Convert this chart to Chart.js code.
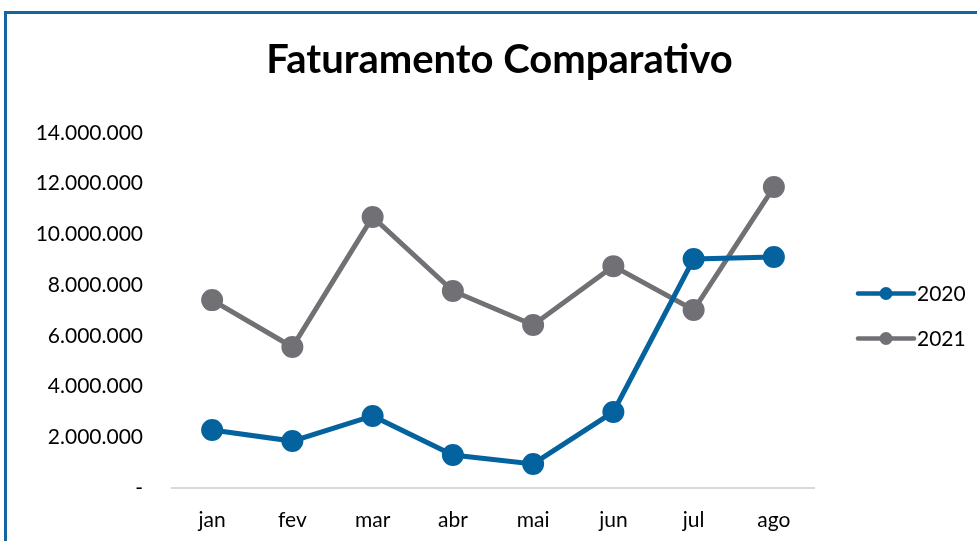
<!DOCTYPE html>
<html>
<head>
<meta charset="utf-8">
<script src="https://cdn.jsdelivr.net/npm/chart.js@4.4.0/dist/chart.umd.min.js"></script>
<style>
  html, body {
    margin: 0;
    padding: 0;
    background: #fff;
    overflow: hidden;
  }

  .wrap {
    position: relative;
    width: 977px;
    height: 541px;
  }

  .frame {
    position: absolute;
    left: 4px;
    top: 11px;
    width: 1000px;
    height: 600px;
    border-left: 3px solid #1565a0;
    border-top: 3px solid #1565a0;
    pointer-events: none;
  }

  canvas {
    position: absolute;
    left: 0;
    top: 0;
  }
</style>
</head>
<body>
<div class="wrap">
  <canvas id="lineChart" width="977" height="541"></canvas>
  <div class="frame"></div>
</div>

<script>
  const months = ['jan', 'fev', 'mar', 'abr', 'mai', 'jun', 'jul', 'ago'];
  const sales2020 = [2290000, 1850000, 2840000, 1300000, 950000, 3000000, 9030000, 9110000];
  const sales2021 = [7410000, 5560000, 10690000, 7770000, 6430000, 8750000, 7020000, 11870000];
  const yTicks = [0, 2000000, 4000000, 6000000, 8000000, 10000000, 12000000, 14000000];
  const chartTitle = 'Faturamento Comparativo';

  const blue = '#04629e';
  const grey = '#717175';
  const font = 'Lato, "Liberation Sans", sans-serif';

  // title centred on the whole box, not only on the plot
  const boxTitle = {
    id: 'boxTitle',
    afterDraw(chart) {
      const ctx = chart.ctx;
      ctx.save();
      ctx.fillStyle = '#000';
      ctx.font = 'bold 40px ' + font;
      ctx.textAlign = 'center';
      ctx.textBaseline = 'middle';
      ctx.fillText(chartTitle, chart.width / 2 + 11, 60);
      ctx.restore();
    }
  };

  // legend on the right: line with a dot in the middle, like the spreadsheet
  const sideLegend = {
    id: 'sideLegend',
    afterDraw(chart) {
      const ctx = chart.ctx;
      const area = chart.chartArea;
      const x0 = area.right + 44;
      const mid = (area.top + area.bottom) / 2;
      chart.data.datasets.forEach((ds, i) => {
        const y = mid - 17 + i * 45;
        ctx.save();
        ctx.strokeStyle = ds.borderColor;
        ctx.lineWidth = 4.5;
        ctx.lineCap = 'round';
        ctx.beginPath();
        ctx.moveTo(x0, y);
        ctx.lineTo(x0 + 56, y);
        ctx.stroke();
        ctx.fillStyle = ds.borderColor;
        ctx.beginPath();
        ctx.arc(x0 + 28, y, 6.5, 0, Math.PI * 2);
        ctx.fill();
        ctx.fillStyle = '#000';
        ctx.font = '21px ' + font;
        ctx.textBaseline = 'middle';
        ctx.textAlign = 'left';
        ctx.fillText(ds.label, x0 + 59, y + 1);
        ctx.restore();
      });
    }
  };

  const fmt = v => v === 0 ? '-' : v.toLocaleString('de-DE');

  new Chart(document.getElementById('lineChart').getContext('2d'), {
    type: 'line',
    data: {
      labels: months,
      datasets: [
        {
          label: '2020',
          data: sales2020,
          borderColor: blue,
          backgroundColor: blue,
          borderWidth: 5,
          pointRadius: 8.5,
          pointHoverRadius: 8.5,
          tension: 0
        },
        {
          label: '2021',
          data: sales2021,
          borderColor: grey,
          backgroundColor: grey,
          borderWidth: 5,
          pointRadius: 8.5,
          pointHoverRadius: 8.5,
          tension: 0
        }
      ]
    },
    options: {
      responsive: false,
      animation: false,
      layout: {
        padding: { left: 0, right: 163, top: 133, bottom: 0 }
      },
      plugins: {
        legend: { display: false },
        tooltip: { enabled: false },
        title: { display: false }
      },
      scales: {
        x: {
          offset: true,
          grid: { display: false },
          border: { display: true, color: '#d9d9d9', width: 2 },
          ticks: { color: '#000', font: { family: font, size: 21 }, padding: 12 },
          afterFit: scale => { scale.height = 53; }
        },
        y: {
          min: 0,
          max: 14000000,
          afterBuildTicks: scale => { scale.ticks = yTicks.map(v => ({ value: v })); },
          grid: { display: false },
          border: { display: false },
          ticks: {
            color: '#000',
            font: { family: font, size: 21 },
            padding: 21,
            callback: v => fmt(v)
          },
          afterFit: scale => { scale.width = 172; }
        }
      }
    },
    plugins: [boxTitle, sideLegend]
  });
</script>
</body>
</html>
